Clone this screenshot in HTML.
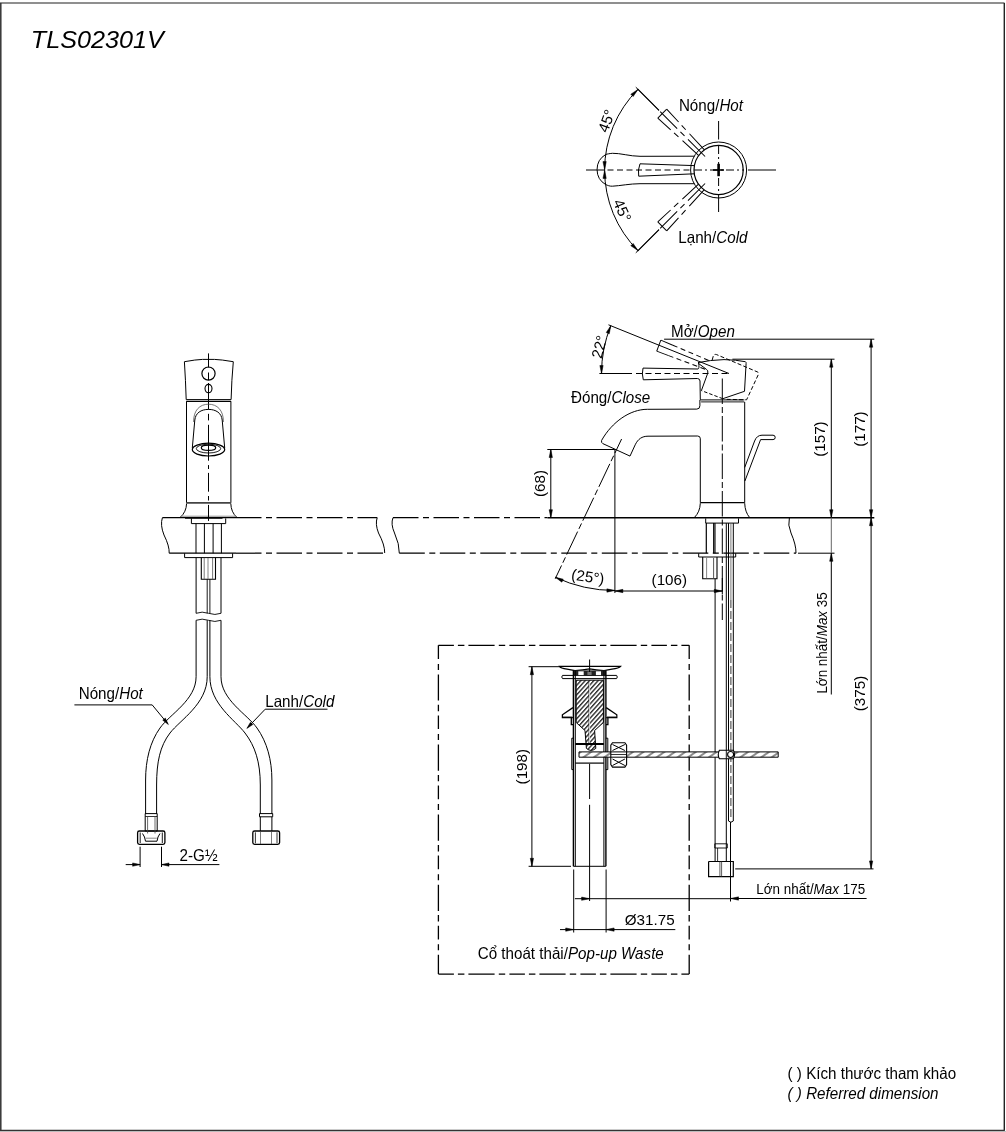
<!DOCTYPE html>
<html><head><meta charset="utf-8"><style>
html,body{margin:0;padding:0;background:#fff;overflow:hidden;width:1006px;height:1132px;}
svg{display:block;filter:grayscale(1);}
text{font-family:"Liberation Sans",sans-serif;fill:#000;}
</style></head><body>
<svg width="1006" height="1132" viewBox="0 0 1006 1132">
<defs>
<pattern id="hatch" width="3.2" height="6" patternUnits="userSpaceOnUse" patternTransform="rotate(42)"><rect width="3.2" height="6" fill="#fff"/><line x1="0.7" y1="0" x2="0.7" y2="6" stroke="#000" stroke-width="1.15"/></pattern>
<pattern id="hatch2" width="6" height="6" patternUnits="userSpaceOnUse" patternTransform="rotate(55)"><rect width="6" height="6" fill="#fff"/><line x1="1" y1="0" x2="1" y2="6" stroke="#000" stroke-width="0.9"/></pattern>
</defs>
<rect width="1006" height="1132" fill="#fff"/>
<line x1="0" y1="3" x2="1004.5" y2="3" stroke="#6a6a6a" stroke-width="1.3"/>
<line x1="0.8" y1="3" x2="0.8" y2="1130.5" stroke="#333" stroke-width="1.5"/>
<line x1="1004.3" y1="3" x2="1004.3" y2="1130.5" stroke="#222" stroke-width="1.4"/>
<line x1="0" y1="1130.4" x2="1004.8" y2="1130.4" stroke="#333" stroke-width="1.5"/>
<line x1="0" y1="1131.6" x2="1006" y2="1131.6" stroke="#bbb" stroke-width="1"/>
<text x="30.8" y="47.9" font-size="24" font-style="italic" textLength="133" lengthAdjust="spacingAndGlyphs">TLS02301V</text>
<circle cx="718.6" cy="170" r="28" fill="none" stroke="#000" stroke-width="1"/>
<circle cx="718.6" cy="170" r="24.6" fill="none" stroke="#000" stroke-width="1.2"/>
<line x1="586" y1="170" x2="598" y2="170" stroke="#000" stroke-width="1"/>
<line x1="598" y1="170" x2="690" y2="170" stroke="#000" stroke-width="1" stroke-dasharray="6,3.5"/>
<line x1="694" y1="170" x2="744" y2="170" stroke="#000" stroke-width="1" stroke-dasharray="8,3,2,3"/>
<line x1="748" y1="170" x2="776" y2="170" stroke="#000" stroke-width="1"/>
<line x1="718.6" y1="121" x2="718.6" y2="139.5" stroke="#000" stroke-width="1"/>
<line x1="718.6" y1="146" x2="718.6" y2="200" stroke="#000" stroke-width="1" stroke-dasharray="8,3,2,3"/>
<line x1="718.6" y1="200" x2="718.6" y2="212" stroke="#000" stroke-width="1"/>
<line x1="718.6" y1="163.8" x2="718.6" y2="176.2" stroke="#000" stroke-width="2.6"/>
<line x1="713" y1="170" x2="724" y2="170" stroke="#000" stroke-width="1.6"/>
<path d="M694.3,156.2 L640,156.3 C630,156.3 620,153 612.4,153.3 C609,153.6 607.5,154 605.9,154.4 A17.4,17.4 0 0 0 605.9,184.7 C607.5,185.2 609.5,186.4 612.4,186.2 C620,185.8 630,183.7 640,183.7 L694.3,183.7" fill="none" stroke="#000" stroke-width="1"/>
<path d="M694.2,165.6 L640,163.8 Q637.6,170 638.7,176.2 L694.2,173.8" fill="none" stroke="#000" stroke-width="1"/>
<g transform="rotate(45 718.6 170)">
<line x1="638.9" y1="163.7" x2="638.9" y2="176.3" stroke="#000" stroke-width="1"/>
<line x1="638.9" y1="163.7" x2="694" y2="165.8" stroke="#000" stroke-width="1" stroke-dasharray="17.5,4.5,6,5.5,30"/>
<line x1="638.9" y1="176.3" x2="694" y2="173.8" stroke="#000" stroke-width="1" stroke-dasharray="17.5,4.5,6,5.5,30"/>
<line x1="604" y1="170" x2="634.4" y2="170" stroke="#000" stroke-width="1"/>
<line x1="636" y1="170" x2="699.5" y2="170" stroke="#000" stroke-width="1" stroke-dasharray="24,4.6,5.8,4.9,40"/>
</g>
<g transform="rotate(-45 718.6 170)">
<line x1="638.9" y1="163.7" x2="638.9" y2="176.3" stroke="#000" stroke-width="1"/>
<line x1="638.9" y1="163.7" x2="694" y2="165.8" stroke="#000" stroke-width="1" stroke-dasharray="17.5,4.5,6,5.5,30"/>
<line x1="638.9" y1="176.3" x2="694" y2="173.8" stroke="#000" stroke-width="1" stroke-dasharray="17.5,4.5,6,5.5,30"/>
<line x1="604" y1="170" x2="634.4" y2="170" stroke="#000" stroke-width="1"/>
<line x1="636" y1="170" x2="699.5" y2="170" stroke="#000" stroke-width="1" stroke-dasharray="24,4.6,5.8,4.9,40"/>
</g>
<path d="M637.99,89.39 A114,114 0 0 0 637.99,250.61" fill="none" stroke="#000" stroke-width="1"/>
<line x1="635.79" y1="87.19" x2="658.99" y2="110.39" stroke="#000" stroke-width="1"/>
<line x1="635.79" y1="252.81" x2="658.99" y2="229.61" stroke="#000" stroke-width="1"/>
<path d="M637.99,89.39 L633.15,96.57 L630.81,94.23 Z" fill="#000" stroke="#000" stroke-width="0.5"/>
<path d="M637.99,250.61 L630.81,245.77 L633.15,243.43 Z" fill="#000" stroke="#000" stroke-width="0.5"/>
<path d="M604.6,169.6 L602.95,161.6 L606.25,161.6 Z" fill="#000" stroke="#000" stroke-width="0.5"/>
<path d="M604.6,170.4 L606.25,178.4 L602.95,178.4 Z" fill="#000" stroke="#000" stroke-width="0.5"/>
<text font-size="15.2" transform="translate(607.5 133.5) rotate(-70)">45°</text>
<text font-size="15.2" transform="translate(612.8 202) rotate(66)">45°</text>
<text font-size="16.5" transform="translate(678.9 111.2) scale(0.92 1)">Nóng/<tspan font-style="italic">Hot</tspan></text>
<text font-size="16.5" transform="translate(678.3 243) scale(0.92 1)">Lạnh/<tspan font-style="italic">Cold</tspan></text>
<path d="M184.4,361.7 Q196,359.6 202.5,359.4 L214.5,359.4 Q221,359.6 233.3,361.7 Q231.6,380 231.1,399.6 L186.2,399.6 Q185.6,380 184.4,361.7 Z" fill="none" stroke="#000" stroke-width="1"/>
<line x1="186.2" y1="401.4" x2="231.1" y2="401.4" stroke="#000" stroke-width="1.4"/>
<circle cx="208.5" cy="373.6" r="6.6" fill="none" stroke="#000" stroke-width="1.2"/>
<ellipse cx="208.5" cy="388.6" rx="3.5" ry="4.2" fill="none" stroke="#000" stroke-width="1.1"/>
<line x1="208.5" y1="353.4" x2="208.5" y2="367.5" stroke="#000" stroke-width="1"/>
<line x1="208.5" y1="372.5" x2="208.5" y2="380" stroke="#000" stroke-width="1"/>
<line x1="208.5" y1="383" x2="208.5" y2="409.5" stroke="#000" stroke-width="1"/>
<line x1="186.5" y1="401.4" x2="186.5" y2="502.8" stroke="#000" stroke-width="1"/>
<line x1="230.9" y1="401.4" x2="230.9" y2="502.8" stroke="#000" stroke-width="1"/>
<line x1="186.5" y1="502.9" x2="230.9" y2="502.9" stroke="#444" stroke-width="1.8"/>
<path d="M186.6,503.5 Q186.3,512 180.2,517.4 L236.8,517.4 Q231,512 230.8,503.5" fill="none" stroke="#000" stroke-width="1"/>
<line x1="181" y1="516.2" x2="236" y2="516.2" stroke="#999" stroke-width="1"/>
<line x1="185" y1="517.8" x2="222.5" y2="517.8" stroke="#000" stroke-width="1.7"/>
<path d="M193.6,422 C193.4,410 200,404.2 208.5,404.2 C217,404.2 223.6,410 223.4,422" fill="none" stroke="#555" stroke-width="0.8"/>
<path d="M192.3,448 L194.8,420 C195.5,413 201,409.4 208.5,409.4 C216,409.4 221.5,413 222.2,420 L224.7,448" fill="none" stroke="#000" stroke-width="1"/>
<ellipse cx="208.5" cy="449.6" rx="16.2" ry="6.4" fill="none" stroke="#000" stroke-width="1.2"/>
<ellipse cx="208.5" cy="448.6" rx="12.2" ry="4.4" fill="none" stroke="#000" stroke-width="0.9"/>
<ellipse cx="208.5" cy="447.8" rx="7.2" ry="2.6" fill="none" stroke="#000" stroke-width="1.2"/>
<line x1="208.5" y1="413.8" x2="208.5" y2="420.4" stroke="#000" stroke-width="1"/>
<line x1="208.5" y1="424.8" x2="208.5" y2="460.7" stroke="#000" stroke-width="1"/>
<line x1="208.5" y1="465.1" x2="208.5" y2="469" stroke="#000" stroke-width="1"/>
<line x1="208.5" y1="472.9" x2="208.5" y2="491.7" stroke="#000" stroke-width="1"/>
<line x1="208.5" y1="496" x2="208.5" y2="500.5" stroke="#000" stroke-width="1"/>
<line x1="208.5" y1="504.9" x2="208.5" y2="520.9" stroke="#000" stroke-width="1"/>
<path d="M191.4,518.4 L191.4,523.6 L225.7,523.6 L225.7,518.4" fill="none" stroke="#000" stroke-width="1"/>
<line x1="196" y1="523.6" x2="196" y2="553.3" stroke="#000" stroke-width="1"/>
<line x1="204.4" y1="523.6" x2="204.4" y2="553.3" stroke="#000" stroke-width="1"/>
<line x1="213.1" y1="523.6" x2="213.1" y2="553.3" stroke="#000" stroke-width="1"/>
<line x1="221.4" y1="523.6" x2="221.4" y2="553.3" stroke="#000" stroke-width="1"/>
<path d="M184.6,553.3 L184.6,557.6 L232.6,557.6 L232.6,553.3" fill="none" stroke="#000" stroke-width="1"/>
<path d="M201.3,557.6 L201.3,579.2 L215.5,579.2 L215.5,557.6" fill="none" stroke="#000" stroke-width="1.1"/>
<line x1="204.2" y1="558" x2="204.2" y2="579" stroke="#555" stroke-width="0.8"/>
<line x1="212.6" y1="558" x2="212.6" y2="579" stroke="#555" stroke-width="0.8"/>
<line x1="208" y1="558" x2="208" y2="579" stroke="#666" stroke-width="0.8"/>
<line x1="196.1" y1="557.6" x2="196.1" y2="613.3" stroke="#000" stroke-width="1"/>
<line x1="221" y1="557.6" x2="221" y2="613.3" stroke="#000" stroke-width="1"/>
<line x1="207.2" y1="579.2" x2="207.2" y2="613.3" stroke="#000" stroke-width="0.9"/>
<line x1="209.9" y1="579.2" x2="209.9" y2="613.3" stroke="#000" stroke-width="0.9"/>
<path d="M196.1,613.3 Q202,611 208.5,613.3 T221,613.3" fill="none" stroke="#000" stroke-width="0.9"/>
<path d="M196.1,620.3 Q202,618 208.5,620.3 T221,620.3" fill="none" stroke="#000" stroke-width="0.9"/>
<path d="M196.1,620.3 L196.1,676.7 C196.1,700 170,714 160,728 C150,742 145.6,760 145.6,780 L145.6,814" fill="none" stroke="#000" stroke-width="1"/>
<path d="M207.2,620.3 L207.2,676.7 C207.2,704 180,720 170,733 C160,746 156.6,762 156.6,785 L156.6,814" fill="none" stroke="#000" stroke-width="1"/>
<path d="M209.9,620.3 L209.9,676.7 C209.9,704 235,720 245,733 C255,746 260.3,762 260.3,785 L260.3,814" fill="none" stroke="#000" stroke-width="1"/>
<path d="M221.0,620.3 L221.0,676.7 C221.0,700 247,714 257,728 C267,742 271.9,760 271.9,780 L271.9,814" fill="none" stroke="#000" stroke-width="1"/>
<path d="M145.2,813.6 L157.2,813.6 L157.2,831 L145.2,831 L145.2,813.6" fill="none" stroke="#000" stroke-width="1"/>
<line x1="145.2" y1="816.5" x2="157.2" y2="816.5" stroke="#000" stroke-width="0.8"/>
<rect x="137.6" y="831" width="27.3" height="13.4" rx="1.8" fill="none" stroke="#000" stroke-width="1.3"/>
<line x1="140.2" y1="832.5" x2="140.2" y2="843" stroke="#000" stroke-width="0.9"/>
<line x1="162.3" y1="832.5" x2="162.3" y2="843" stroke="#000" stroke-width="0.9"/>
<path d="M142.5,833.5 L144.5,837 L145.5,841.2 L157,841.2 L158,837 L160,833.5" fill="none" stroke="#000" stroke-width="1"/>
<line x1="145.8" y1="838.2" x2="156.8" y2="838.2" stroke="#555" stroke-width="0.7"/>
<line x1="147.6" y1="816.5" x2="147.6" y2="833.5" stroke="#444" stroke-width="0.8"/>
<line x1="155" y1="816.5" x2="155" y2="833.5" stroke="#444" stroke-width="0.8"/>
<path d="M259.5,813.6 L272.7,813.6 L272.7,816.8 L259.5,816.8 L259.5,813.6" fill="none" stroke="#000" stroke-width="1"/>
<line x1="260.3" y1="816.8" x2="260.3" y2="831" stroke="#000" stroke-width="1"/>
<line x1="271.9" y1="816.8" x2="271.9" y2="831" stroke="#000" stroke-width="1"/>
<rect x="252.8" y="831" width="26.8" height="13.4" rx="1.8" fill="none" stroke="#000" stroke-width="1.3"/>
<line x1="255.4" y1="832.3" x2="255.4" y2="843.3" stroke="#000" stroke-width="0.8"/>
<line x1="277" y1="832.3" x2="277" y2="843.3" stroke="#000" stroke-width="0.8"/>
<line x1="260.5" y1="831.5" x2="260.5" y2="844" stroke="#444" stroke-width="0.7"/>
<line x1="271.5" y1="831.5" x2="271.5" y2="844" stroke="#444" stroke-width="0.7"/>
<text font-size="16.5" transform="translate(78.7 699) scale(0.92 1)">Nóng/<tspan font-style="italic">Hot</tspan></text>
<line x1="74.4" y1="704.9" x2="152.2" y2="704.9" stroke="#000" stroke-width="1"/>
<line x1="152.2" y1="704.9" x2="167.6" y2="723.6" stroke="#000" stroke-width="1"/>
<path d="M168.4,724.6 L162.74,720.16 L165.32,718.1 Z" fill="#000" stroke="#000" stroke-width="0.5"/>
<text font-size="16.5" transform="translate(265.2 707) scale(0.92 1)">Lanh/<tspan font-style="italic">Cold</tspan></text>
<line x1="265.2" y1="709.2" x2="327.5" y2="709.2" stroke="#000" stroke-width="1"/>
<line x1="265.2" y1="709.2" x2="247.6" y2="727.6" stroke="#000" stroke-width="1"/>
<path d="M246.8,728.5 L250.43,722.29 L252.82,724.57 Z" fill="#000" stroke="#000" stroke-width="0.5"/>
<line x1="140.1" y1="846.7" x2="140.1" y2="867" stroke="#000" stroke-width="1"/>
<line x1="161.5" y1="846.7" x2="161.5" y2="867" stroke="#000" stroke-width="1"/>
<line x1="125.7" y1="864.6" x2="140.1" y2="864.6" stroke="#000" stroke-width="1"/>
<line x1="161.5" y1="864.6" x2="219.4" y2="864.6" stroke="#000" stroke-width="1"/>
<path d="M140.1,864.6 L132.6,866.25 L132.6,862.95 Z" fill="#000" stroke="#000" stroke-width="0.5"/>
<path d="M161.5,864.6 L169,862.95 L169,866.25 Z" fill="#000" stroke="#000" stroke-width="0.5"/>
<text font-size="16.5" transform="translate(179.6 861) scale(0.92 1)">2-G½</text>
<path d="M162.4,517.7 Q160,525 164,535 Q169.5,546 169.2,553.2" fill="none" stroke="#000" stroke-width="1"/>
<line x1="162.4" y1="517.7" x2="236" y2="517.7" stroke="#000" stroke-width="1.2"/>
<line x1="236" y1="517.7" x2="377.2" y2="517.7" stroke="#000" stroke-width="1.2" stroke-dasharray="25.5,4.5,6,4.5"/>
<path d="M377.2,517.7 Q375,524 378.5,533 Q384.9,545 384.7,553" fill="none" stroke="#000" stroke-width="1"/>
<line x1="169.2" y1="553.2" x2="236" y2="553.2" stroke="#000" stroke-width="1.2"/>
<line x1="236" y1="553.2" x2="384.7" y2="553.2" stroke="#000" stroke-width="1.2" stroke-dasharray="25.5,4.5,6,4.5"/>
<path d="M393,517.7 Q390.5,524 394.5,533 Q399.5,544 399.3,553.2" fill="none" stroke="#000" stroke-width="1"/>
<line x1="393" y1="517.7" x2="547.5" y2="517.7" stroke="#000" stroke-width="1.2" stroke-dasharray="25.5,4.5,6,4.5"/>
<line x1="547.5" y1="517.7" x2="874.3" y2="517.7" stroke="#000" stroke-width="1.5"/>
<line x1="399.3" y1="553.2" x2="796" y2="553.2" stroke="#000" stroke-width="1.2" stroke-dasharray="25.5,4.5,6,4.5"/>
<line x1="798" y1="553.2" x2="834.5" y2="553.2" stroke="#000" stroke-width="1"/>
<path d="M789.4,517.7 Q787.5,525 791,533 Q796.2,545 796,553.2" fill="none" stroke="#000" stroke-width="1"/>
<line x1="744.7" y1="401.9" x2="744.7" y2="502.7" stroke="#000" stroke-width="1"/>
<line x1="700.3" y1="438.5" x2="700.3" y2="502.7" stroke="#000" stroke-width="1"/>
<line x1="700.3" y1="502.7" x2="744.7" y2="502.7" stroke="#000" stroke-width="1.3"/>
<path d="M700.3,503.2 Q700,512 694.4,517.5" fill="none" stroke="#000" stroke-width="1"/>
<path d="M744.7,503.2 Q745,512 749.6,517.5" fill="none" stroke="#000" stroke-width="1"/>
<line x1="700.4" y1="399.9" x2="744.3" y2="399.9" stroke="#000" stroke-width="1"/>
<line x1="701.1" y1="401.9" x2="744.3" y2="401.9" stroke="#000" stroke-width="0.9"/>
<path d="M699.9,400 L699.9,405.7 Q699.9,409.1 696.8,409.1 L647.3,409.3 C630,409.3 612,422 601.6,440.4 Q601,442.6 602.8,443.6 L630,456.1 L635.2,444.8 C638,439 642,436.2 648,436.2 L697.6,436 Q700.3,436 700.3,438.6" fill="none" stroke="#000" stroke-width="1"/>
<path d="M698,369 L643,368.1 Q641.6,374 643.3,379.8 L697.4,378.5 Q699.8,378.6 700,381 L700.3,399.9 M698,369 Q699.6,368.6 698.6,363 M698,362.6 Q710,360 724,359.6 Q736,359.8 745.4,361.7 Q746.3,362.2 746.1,363.5 L744.5,391.3 L722.8,398.7 M701.4,390.6 L707.8,373 Q708.3,370.4 706.5,369.4 L698.2,363.2" fill="none" stroke="#000" stroke-width="1"/>
<path d="M722.8,398.7 L701.4,390.6" fill="none" stroke="#000" stroke-width="1" stroke-dasharray="3.5,2"/>
<path d="M712.2,360 L713.4,355.6 Q714.4,353.9 716.6,354.6 L757.6,372 Q759,373 758.4,374.4 L746.6,399.8 L724.9,399.3" fill="none" stroke="#000" stroke-width="1" stroke-dasharray="4,2.2"/>
<g transform="rotate(22 723.8 400)">
<line x1="643" y1="368.1" x2="643.3" y2="379.8" stroke="#000" stroke-width="1"/>
<line x1="643" y1="368.1" x2="656" y2="368.3" stroke="#000" stroke-width="1"/>
<line x1="643.3" y1="379.8" x2="656" y2="379.5" stroke="#000" stroke-width="1"/>
<line x1="656" y1="368.3" x2="698" y2="369" stroke="#000" stroke-width="1" stroke-dasharray="5,3.5"/>
<line x1="656" y1="379.5" x2="697.4" y2="378.5" stroke="#000" stroke-width="1" stroke-dasharray="5,3.5"/>
</g>
<line x1="599.4" y1="373.5" x2="632" y2="373.5" stroke="#000" stroke-width="1"/>
<line x1="636" y1="373.5" x2="729" y2="373.5" stroke="#000" stroke-width="1" stroke-dasharray="6,3.5"/>
<line x1="608.47" y1="324.8" x2="729" y2="373.5" stroke="#000" stroke-width="1"/>
<path d="M610.78,325.74 A127.5,127.5 0 0 0 601.5,373.5" fill="none" stroke="#000" stroke-width="1"/>
<path d="M610.78,325.74 L609.32,333.77 L606.26,332.54 Z" fill="#000" stroke="#000" stroke-width="0.5"/>
<path d="M601.5,373.5 L599.85,365.5 L603.15,365.5 Z" fill="#000" stroke="#000" stroke-width="0.5"/>
<text font-size="15.2" transform="translate(601.6 359.3) rotate(-76)">22°</text>
<text font-size="16.5" transform="translate(671 336.8) scale(0.92 1)">Mở/<tspan font-style="italic">Open</tspan></text>
<text font-size="16.5" transform="translate(571 402.6) scale(0.92 1)">Đóng/<tspan font-style="italic">Close</tspan></text>
<line x1="722.3" y1="378.5" x2="722.3" y2="620" stroke="#000" stroke-width="1" stroke-dasharray="25.5,3,6,3"/>
<path d="M744.7,467.5 L754.6,441 Q756.8,435.2 762,435.2 L773,435.2 A2.2,2.2 0 0 1 773,439.6 L760.6,439.6 L744.9,481" fill="none" stroke="#000" stroke-width="1"/>
<path d="M705.7,518.4 L705.7,523.1 L738.5,523.1 L738.5,518.4" fill="none" stroke="#000" stroke-width="1"/>
<line x1="706.3" y1="523.1" x2="706.3" y2="553.3" stroke="#000" stroke-width="1.2"/>
<line x1="713.8" y1="523.1" x2="713.8" y2="553.3" stroke="#000" stroke-width="1.4"/>
<line x1="715.1" y1="523.1" x2="715.1" y2="553.3" stroke="#000" stroke-width="0.9"/>
<path d="M698.7,553.3 L698.7,557 L735.7,557 L735.7,553.3" fill="none" stroke="#000" stroke-width="1"/>
<path d="M702.7,557 L702.7,578.8 L717,578.8 L717,557" fill="none" stroke="#000" stroke-width="1.1"/>
<line x1="706.6" y1="558" x2="706.6" y2="578" stroke="#666" stroke-width="0.8"/>
<line x1="713.6" y1="558" x2="713.6" y2="578" stroke="#444" stroke-width="0.9"/>
<line x1="715.1" y1="578.8" x2="715.1" y2="861.5" stroke="#000" stroke-width="1"/>
<line x1="726.3" y1="523.1" x2="726.3" y2="861.5" stroke="#000" stroke-width="1"/>
<line x1="728.5" y1="523.1" x2="728.5" y2="821" stroke="#000" stroke-width="1"/>
<line x1="733.3" y1="523.1" x2="733.3" y2="821" stroke="#000" stroke-width="1"/>
<line x1="730.9" y1="523.1" x2="730.9" y2="600" stroke="#555" stroke-width="0.8"/>
<line x1="730.9" y1="600" x2="730.9" y2="818" stroke="#000" stroke-width="0.8" stroke-dasharray="8,3"/>
<path d="M728.5,821 Q730.9,823.5 733.3,821" fill="none" stroke="#000" stroke-width="1"/>
<path d="M714.8,843.8 L727.3,843.8 L727.3,848 L714.8,848 L714.8,843.8" fill="none" stroke="#000" stroke-width="0.9"/>
<line x1="717.6" y1="848" x2="717.6" y2="861.5" stroke="#000" stroke-width="0.8"/>
<path d="M708.6,861.5 L733.3,861.5 L733.3,876.6 L708.6,876.6 L708.6,861.5" fill="none" stroke="#000" stroke-width="1.2"/>
<line x1="719.9" y1="861.5" x2="719.9" y2="876.6" stroke="#333" stroke-width="0.8"/>
<line x1="721.6" y1="861.5" x2="721.6" y2="876.6" stroke="#333" stroke-width="0.8"/>
<line x1="547.3" y1="449.5" x2="614.9" y2="449.5" stroke="#000" stroke-width="1"/>
<line x1="550.8" y1="449.5" x2="550.8" y2="517.7" stroke="#000" stroke-width="1"/>
<path d="M550.8,449.5 L552.45,457.5 L549.15,457.5 Z" fill="#000" stroke="#000" stroke-width="0.5"/>
<path d="M550.8,517.7 L549.15,509.7 L552.45,509.7 Z" fill="#000" stroke="#000" stroke-width="0.5"/>
<text font-size="15.2" transform="translate(545 497) rotate(-90)">(68)</text>
<line x1="614.9" y1="449.5" x2="614.9" y2="593" stroke="#000" stroke-width="1"/>
<line x1="621.6" y1="439" x2="555.2" y2="578.8" stroke="#000" stroke-width="1" stroke-dasharray="25.5,3,6,3" stroke-dashoffset="10"/>
<path d="M555.31,577.29 A141,141 0 0 0 614.9,590.5" fill="none" stroke="#000" stroke-width="1"/>
<path d="M555.31,577.29 L563.26,579.17 L561.86,582.17 Z" fill="#000" stroke="#000" stroke-width="0.5"/>
<path d="M614.9,590.5 L606.9,592.15 L606.9,588.85 Z" fill="#000" stroke="#000" stroke-width="0.5"/>
<text font-size="15.2" transform="translate(570.8 579.6) rotate(8)">(25°)</text>
<line x1="614.9" y1="591" x2="722.3" y2="591" stroke="#000" stroke-width="1"/>
<path d="M614.9,591 L622.9,589.35 L622.9,592.65 Z" fill="#000" stroke="#000" stroke-width="0.5"/>
<path d="M722.3,591 L714.3,592.65 L714.3,589.35 Z" fill="#000" stroke="#000" stroke-width="0.5"/>
<line x1="722.3" y1="578" x2="722.3" y2="594" stroke="#000" stroke-width="1"/>
<text font-size="15.2" transform="translate(651.6 584.7)">(106)</text>
<line x1="664.1" y1="339.2" x2="874.3" y2="339.2" stroke="#000" stroke-width="1"/>
<line x1="732.4" y1="359.2" x2="834.5" y2="359.2" stroke="#000" stroke-width="1"/>
<line x1="831.3" y1="359.2" x2="831.3" y2="517.7" stroke="#000" stroke-width="1"/>
<path d="M831.3,359.2 L832.95,367.2 L829.65,367.2 Z" fill="#000" stroke="#000" stroke-width="0.5"/>
<path d="M831.3,517.7 L829.65,509.7 L832.95,509.7 Z" fill="#000" stroke="#000" stroke-width="0.5"/>
<text font-size="15.2" transform="translate(825.4 456.8) rotate(-90)">(157)</text>
<line x1="871.1" y1="339.2" x2="871.1" y2="517.7" stroke="#000" stroke-width="1"/>
<path d="M871.1,339.2 L872.75,347.2 L869.45,347.2 Z" fill="#000" stroke="#000" stroke-width="0.5"/>
<path d="M871.1,517.7 L869.45,509.7 L872.75,509.7 Z" fill="#000" stroke="#000" stroke-width="0.5"/>
<text font-size="15.2" transform="translate(865 446.8) rotate(-90)">(177)</text>
<line x1="871.1" y1="517.7" x2="871.1" y2="868.9" stroke="#000" stroke-width="1"/>
<path d="M871.1,517.7 L872.75,525.7 L869.45,525.7 Z" fill="#000" stroke="#000" stroke-width="0.5"/>
<path d="M871.1,868.9 L869.45,860.9 L872.75,860.9 Z" fill="#000" stroke="#000" stroke-width="0.5"/>
<text font-size="15.2" transform="translate(864.8 711.2) rotate(-90)">(375)</text>
<line x1="735.2" y1="868.9" x2="873.5" y2="868.9" stroke="#000" stroke-width="1"/>
<line x1="831.3" y1="517.7" x2="831.3" y2="553.3" stroke="#666" stroke-width="1"/>
<line x1="831.3" y1="553.3" x2="831.3" y2="694.5" stroke="#000" stroke-width="1"/>
<path d="M831.3,553.3 L832.95,561.3 L829.65,561.3 Z" fill="#000" stroke="#000" stroke-width="0.5"/>
<text font-size="14.6" transform="translate(826.9 693.6) rotate(-90) scale(0.92 1)">Lớn nhất/<tspan font-style="italic">Max</tspan> 35</text>
<line x1="730.5" y1="822" x2="730.5" y2="901.5" stroke="#000" stroke-width="1"/>
<line x1="730.5" y1="898.5" x2="866.6" y2="898.5" stroke="#000" stroke-width="1"/>
<path d="M730.5,898.5 L738.5,896.85 L738.5,900.15 Z" fill="#000" stroke="#000" stroke-width="0.5"/>
<text font-size="14.6" transform="translate(756.3 894.2) scale(0.92 1)">Lớn nhất/<tspan font-style="italic">Max</tspan> 175</text>
<line x1="438.4" y1="645.3" x2="689.2" y2="645.3" stroke="#000" stroke-width="1.3" stroke-dasharray="15.5,4,6.5,4,26.2,4.2,6.4,4.2"/>
<line x1="438.4" y1="645.3" x2="438.4" y2="974.1" stroke="#000" stroke-width="1.3" stroke-dasharray="13.7,4.9,6,4.5,26.2,4.2,6.4,4.2"/>
<line x1="689.2" y1="645.3" x2="689.2" y2="974.1" stroke="#000" stroke-width="1.3" stroke-dasharray="13.7,4.9,6,4.5,26.2,4.2,6.4,4.2"/>
<line x1="438.4" y1="974.1" x2="689.2" y2="974.1" stroke="#000" stroke-width="1.3" stroke-dasharray="15.5,4,6.5,4,26.2,4.2,6.4,4.2"/>
<path d="M559.4,666.4 L620.6,666.4 Q619,668.2 612,669.2 L604,670.6 Q596,670 589.6,668.8 Q583,670 575,670.6 L567,669.2 Q560.5,668.2 559.4,666.4 Z" fill="none" stroke="#000" stroke-width="1.2"/>
<path d="M562.5,675.4 L616.6,675.4 Q618,677 616.6,678.6 L562.5,678.6 Q561,677 562.5,675.4 Z" fill="none" stroke="#000" stroke-width="1"/>
<rect x="573.4" y="670.4" width="32.6" height="5" fill="#222"/>
<rect x="578.3" y="671.3" width="5.4" height="3.8" fill="#fff"/>
<rect x="595.9" y="671.3" width="5.1" height="3.8" fill="#fff"/>
<rect x="587.4" y="671.6" width="4.2" height="3.4" fill="#777"/>
<line x1="573.4" y1="670.6" x2="573.4" y2="866.3" stroke="#000" stroke-width="1.4"/>
<line x1="575.3" y1="670.6" x2="575.3" y2="866.3" stroke="#000" stroke-width="1"/>
<line x1="603.9" y1="670.6" x2="603.9" y2="866.3" stroke="#000" stroke-width="1"/>
<line x1="605.9" y1="670.6" x2="605.9" y2="866.3" stroke="#000" stroke-width="1.4"/>
<path d="M576.2,680.2 L603.4,680.2 L603.4,722.5 L594.6,730.5 L595.8,748.4 Q591,752.4 586.4,748.4 L585,730.5 L576.2,722.5 Z" fill="url(#hatch)" stroke="#000" stroke-width="1"/>
<line x1="589.6" y1="682" x2="589.6" y2="745" stroke="#fff" stroke-width="0.9"/>
<line x1="588.8" y1="682" x2="588.8" y2="745" stroke="#222" stroke-width="0.6"/>
<path d="M572.9,707.6 L562.4,714.8 L562.4,717.6 L572.9,717.6 M571.3,717.6 L571.3,724.6 L573.2,724.6" fill="none" stroke="#000" stroke-width="1.3"/>
<path d="M606.2,707.6 L616.8,714.8 L616.8,717.6 L606.2,717.6 M607.9,717.6 L607.9,724.6 L606,724.6" fill="none" stroke="#000" stroke-width="1.3"/>
<line x1="563" y1="716.6" x2="572.5" y2="716.6" stroke="#555" stroke-width="0.7"/>
<line x1="607" y1="716.6" x2="616.3" y2="716.6" stroke="#555" stroke-width="0.7"/>
<path d="M573.4,738.2 L571.8,738.2 L571.8,769.6 L573.4,769.6" fill="none" stroke="#000" stroke-width="1"/>
<path d="M605.9,738.2 L607.8,738.2 L607.8,769.6 L605.9,769.6" fill="none" stroke="#000" stroke-width="1"/>
<line x1="575.3" y1="744" x2="603.9" y2="744" stroke="#000" stroke-width="2"/>
<line x1="575.3" y1="763.1" x2="603.9" y2="763.1" stroke="#000" stroke-width="1.2"/>
<path d="M579,751.9 L778.2,751.9 L778.2,757.2 L579,757.2 Z" fill="url(#hatch2)" stroke="#000" stroke-width="1"/>
<path d="M612.5,742.7 L624.9,742.7 L626.6,745.2 L626.6,764.6 L624.9,767.1 L612.5,767.1 L610.8,764.6 L610.8,745.2 Z" fill="#fff" stroke="#000" stroke-width="1.1"/>
<path d="M612.5,744.5 L624.9,750.5 M612.5,750.5 L624.9,744.5 M612.5,759 L624.9,765.5 M612.5,765.5 L624.9,759" fill="none" stroke="#000" stroke-width="1"/>
<line x1="610.8" y1="754.5" x2="626.6" y2="754.5" stroke="#000" stroke-width="0.8"/>
<line x1="610.8" y1="751.9" x2="626.6" y2="751.9" stroke="#000" stroke-width="1"/>
<line x1="610.8" y1="757.2" x2="626.6" y2="757.2" stroke="#000" stroke-width="1"/>
<path d="M719.4,750.2 L733.4,750.2 Q735.6,754.5 733.4,758.8 L719.4,758.8 Q717.2,754.5 719.4,750.2 Z" fill="#fff" stroke="#000" stroke-width="1.1"/>
<circle cx="730.6" cy="754.5" r="3" fill="none" stroke="#000" stroke-width="1.1"/>
<line x1="726.3" y1="750.2" x2="726.3" y2="758.8" stroke="#000" stroke-width="0.9"/>
<line x1="589.6" y1="659.5" x2="589.6" y2="672" stroke="#000" stroke-width="1"/>
<line x1="589.6" y1="763.8" x2="589.6" y2="799" stroke="#000" stroke-width="1"/>
<line x1="589.6" y1="804.8" x2="589.6" y2="901" stroke="#000" stroke-width="1"/>
<line x1="573.4" y1="866.3" x2="605.9" y2="866.3" stroke="#000" stroke-width="1"/>
<line x1="528.6" y1="666.7" x2="559.3" y2="666.7" stroke="#000" stroke-width="1"/>
<line x1="528.6" y1="866.3" x2="571" y2="866.3" stroke="#000" stroke-width="1"/>
<line x1="531.9" y1="666.7" x2="531.9" y2="866.3" stroke="#000" stroke-width="1"/>
<path d="M531.9,666.7 L533.55,674.7 L530.25,674.7 Z" fill="#000" stroke="#000" stroke-width="0.5"/>
<path d="M531.9,866.3 L530.25,858.3 L533.55,858.3 Z" fill="#000" stroke="#000" stroke-width="0.5"/>
<text font-size="15.2" transform="translate(526.8 784.4) rotate(-90)">(198)</text>
<line x1="573.7" y1="869.5" x2="573.7" y2="932.5" stroke="#000" stroke-width="1"/>
<line x1="606.1" y1="869.5" x2="606.1" y2="932.5" stroke="#000" stroke-width="1"/>
<line x1="560" y1="929.6" x2="675.3" y2="929.6" stroke="#000" stroke-width="1"/>
<path d="M573.7,929.6 L565.7,931.25 L565.7,927.95 Z" fill="#000" stroke="#000" stroke-width="0.5"/>
<path d="M606.1,929.6 L614.1,927.95 L614.1,931.25 Z" fill="#000" stroke="#000" stroke-width="0.5"/>
<text font-size="15.2" transform="translate(624.8 925.4)">Ø31.75</text>
<line x1="574.9" y1="898.7" x2="730.5" y2="898.7" stroke="#000" stroke-width="1"/>
<path d="M589.6,898.7 L581.6,900.35 L581.6,897.05 Z" fill="#000" stroke="#000" stroke-width="0.5"/>
<text font-size="16.5" transform="translate(477.7 959.4) scale(0.92 1)">Cổ thoát thải/<tspan font-style="italic">Pop-up Waste</tspan></text>
<text font-size="16.5" transform="translate(787.6 1079.2) scale(0.92 1)">( ) Kích thước tham khảo</text>
<text font-size="16.5" transform="translate(787.6 1099.4) scale(0.92 1)"><tspan font-style="italic">( ) Referred dimension</tspan></text>
</svg></body></html>
